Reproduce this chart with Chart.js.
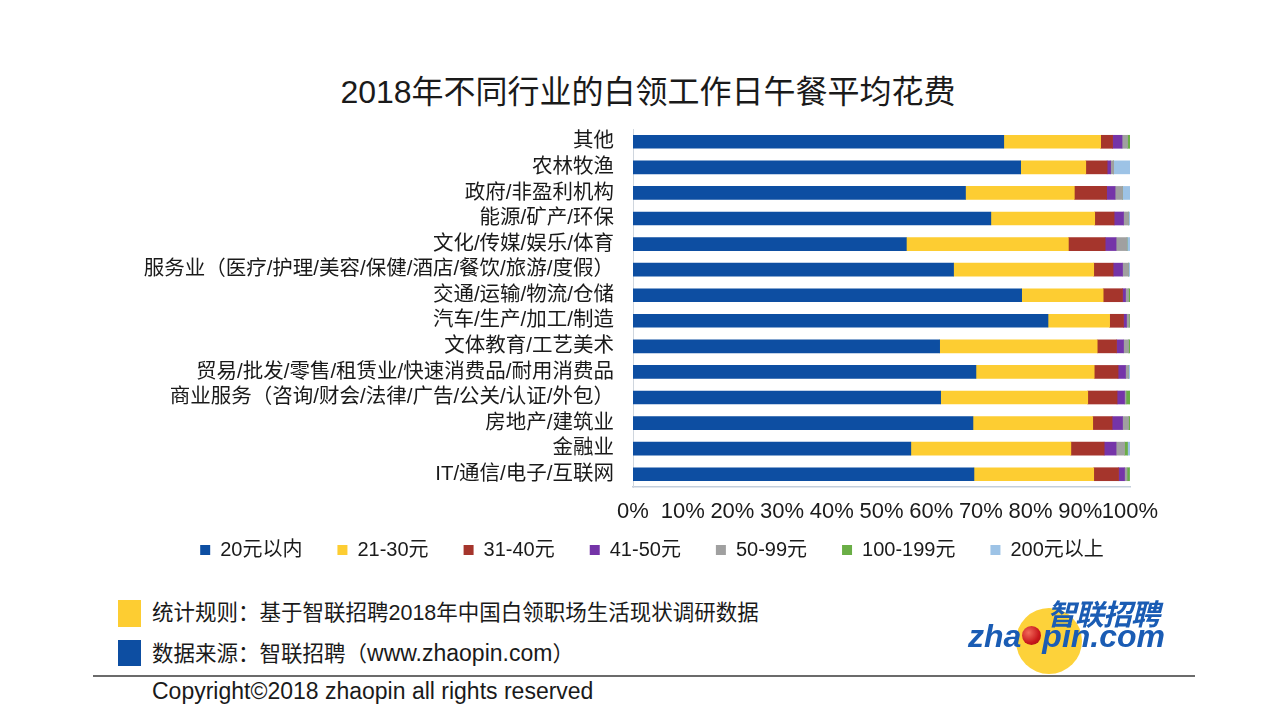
<!DOCTYPE html>
<html>
<head>
<meta charset="utf-8">
<script src="https://cdn.jsdelivr.net/npm/chart.js@4/dist/chart.umd.min.js"></script>
<style>
  body { margin: 0; width: 1267px; height: 713px; overflow: hidden; background: #fff;
         font-family: "Liberation Sans", "Noto Sans CJK SC", sans-serif; color: #1a1a1a; position: relative; }
  #wrap { position: absolute; left: 0; top: 0; width: 1304px; height: 596px; }
  .abs { position: absolute; white-space: nowrap; }
  #title { left: 0; width: 1296px; top: 72px; line-height: 40px; font-size: 32px; text-align: center; }
  .note { left: 152px; font-size: 21.5px; line-height: 26px; }
  .lat { font-size: 23px; }
  .sq { left: 118px; width: 23px; }
  #logo1 { left: 1047px; top: 596px; font-size: 29px; line-height: 32px; font-weight: bold; font-style: italic;
           color: #1a5cb4; font-family: "Noto Sans CJK SC", sans-serif; letter-spacing: -1px; }
  #logo2 { left: 968px; top: 618px; font-size: 32px; line-height: 36px; font-weight: bold; font-style: italic;
           color: #1a5cb4; font-family: "Liberation Sans", sans-serif; }
  #ball { display: inline-block; width: 19px; height: 19px; border-radius: 50%; color: transparent; line-height: 19px;
          background: radial-gradient(circle at 35% 35%, #f26a5a, #c8171b 60%, #9a0f12); vertical-align: 1px; margin: 0 1px; }
</style>
</head>
<body>
<div id="title" class="abs">2018年不同行业的白领工作日午餐平均花费</div>
<div id="wrap"><canvas id="canvas"></canvas></div>

<div class="abs" style="left:1016px;top:608px;width:66px;height:66px;border-radius:50%;background:#fdd23a;"></div>
<div id="logo1" class="abs">智联招聘</div>
<div id="logo2" class="abs">zha<span id="ball">o</span>pin.com</div>

<div class="abs sq" style="top:600px;height:27px;background:#fdcd32;"></div>
<div class="abs note" style="top:600px;">统计规则：基于智联招聘2018年中国白领职场生活现状调研数据</div>
<div class="abs sq" style="top:640px;height:26px;background:#0d4ea2;"></div>
<div class="abs note" style="top:640px;">数据来源：智联招聘（<span class="lat">www.zhaopin.com</span>）</div>
<div class="abs" style="left:93px;top:675px;width:1102px;height:1.5px;background:#6b6b6b;"></div>
<div class="abs note lat" style="top:678px;line-height:26px;">Copyright©2018 zhaopin all rights reserved</div>

<script>
// industries, top to bottom
var industries = ['其他', '农林牧渔', '政府/非盈利机构', '能源/矿产/环保', '文化/传媒/娱乐/体育',
  '服务业（医疗/护理/美容/保健/酒店/餐饮/旅游/度假）', '交通/运输/物流/仓储', '汽车/生产/加工/制造',
  '文体教育/工艺美术', '贸易/批发/零售/租赁业/快速消费品/耐用消费品',
  '商业服务（咨询/财会/法律/广告/公关/认证/外包）', '房地产/建筑业', '金融业', 'IT/通信/电子/互联网'];

var seriesNames = ['20元以内', '21-30元', '31-40元', '41-50元', '50-99元', '100-199元', '200元以上'];
var seriesColors = ['#0d4ea2', '#fdcd32', '#a5352c', '#7534a8', '#a0a0a0', '#6aae46', '#9dc3e6'];

// percent of respondents per industry
var under20  = [74.6, 78.0, 66.9, 72.0, 55.0, 64.5, 78.2, 83.5, 61.7, 69.0, 61.9, 68.4, 55.9, 68.6];
var y21to30  = [19.5, 13.1, 21.9, 20.9, 32.6, 28.2, 16.4, 12.4, 31.7, 23.8, 29.6, 24.1, 32.2, 24.1];
var y31to40  = [2.4, 4.3, 6.5, 3.9, 7.4, 3.9, 3.9, 2.8, 3.9, 4.8, 5.9, 3.9, 6.7, 5.0];
var y41to50  = [1.9, 0.7, 1.7, 1.9, 2.2, 1.9, 0.6, 0.6, 1.4, 1.5, 1.5, 2.1, 2.4, 1.2];
var y50to99  = [1.1, 0.6, 1.5, 1.0, 2.2, 1.2, 0.6, 0.5, 1.0, 0.6, 0.3, 1.2, 1.7, 0.5];
var y100to199 = [0.5, 0, 0, 0, 0, 0, 0.3, 0.1, 0.3, 0, 0.8, 0.3, 0.6, 0.5];
var over200  = [0, 3.3, 1.5, 0.3, 0.6, 0.3, 0, 0.1, 0, 0.3, 0, 0, 0.5, 0.1];

var xTicks = [0, 10, 20, 30, 40, 50, 60, 70, 80, 90, 100];

var seriesData = [under20, y21to30, y31to40, y41to50, y50to99, y100to199, over200];
var datasets = seriesData.map(function (d, i) {
  return {
    label: seriesNames[i],
    data: d,
    backgroundColor: seriesColors[i],
    borderWidth: 0,
    barThickness: 13
  };
});

// legend sits closer to the axis labels than chart.js puts it
var legendUp = {
  id: 'legendUp',
  afterLayout: function (chart) {
    chart.legend.top -= 26;
    chart.legend.bottom -= 26;
  }
};

var txt = '#1a1a1a';
var ctx = document.getElementById('canvas').getContext('2d');
new Chart(ctx, {
  type: 'bar',
  data: { labels: industries, datasets: datasets },
  plugins: [legendUp],
  options: {
    indexAxis: 'y',
    responsive: true,
    maintainAspectRatio: false,
    animation: false,
    layout: { padding: { top: 129, left: 0, right: 0, bottom: 0 } },
    scales: {
      x: {
        stacked: true, min: 0, max: 100,
        afterBuildTicks: function (s) { s.ticks = xTicks.map(function (v) { return { value: v }; }); },
        grid: { display: false, drawTicks: false },
        border: { display: true, color: '#c3cedb', width: 1.5 },
        ticks: { color: txt, padding: 12, maxRotation: 0, autoSkip: false,
                 font: { family: '"Liberation Sans", sans-serif', size: 22 },
                 callback: function (v) { return v + '%'; } },
        afterFit: function (s) { s.height = 44; }
      },
      y: {
        stacked: true,
        grid: { display: false, drawTicks: false },
        border: { display: true, color: '#cfd6de', width: 1 },
        ticks: { color: txt, padding: 19, autoSkip: false,
                 font: { family: '"Liberation Sans", "Noto Sans CJK SC", sans-serif', size: 20.5 } },
        afterFit: function (s) { s.width = 633; }
      },
      pad: {
        type: 'linear', position: 'right', display: true,
        grid: { display: false, drawTicks: false },
        border: { display: false },
        ticks: { display: false },
        afterFit: function (s) { s.width = 174; }
      }
    },
    plugins: {
      legend: {
        position: 'bottom',
        labels: {
          boxWidth: 10, boxHeight: 10, padding: 35, color: txt,
          font: { family: '"Liberation Sans", "Noto Sans CJK SC", sans-serif', size: 20 }
        }
      },
      tooltip: { enabled: false }
    }
  }
});
</script>
</body>
</html>
